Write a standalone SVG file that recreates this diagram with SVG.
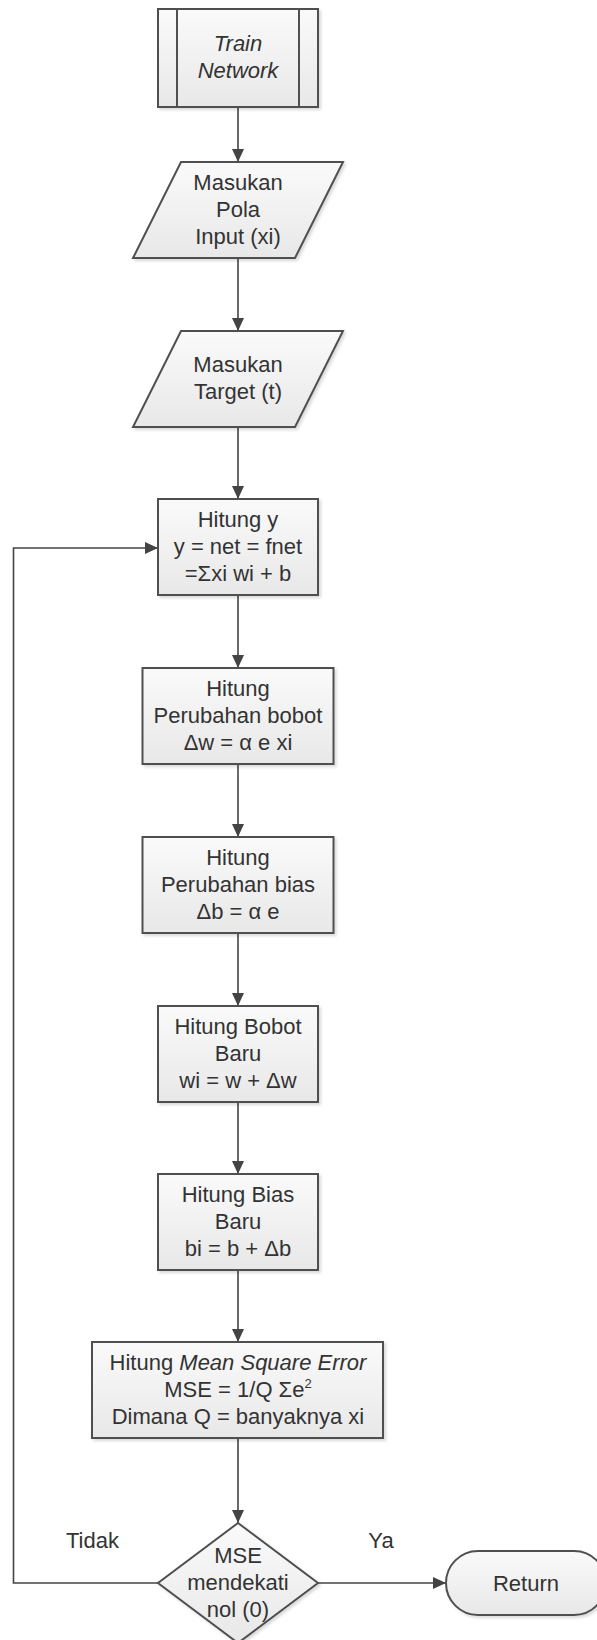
<svg xmlns="http://www.w3.org/2000/svg" width="597" height="1640" viewBox="0 0 597 1640">
<style>
  .shape { fill: url(#g); stroke: #505050; stroke-width: 2; filter: url(#sh); }
  .inner { stroke: #505050; stroke-width: 2; fill: none; }
  .t { font-family: "Liberation Sans", Arial, sans-serif; font-size: 22px; fill: #333; text-anchor: middle; }
  .it { font-style: italic; }
  .conn { fill: none; stroke: #444; stroke-width: 1.6; }
</style>
<defs>
  <linearGradient id="g" x1="0" y1="0" x2="0" y2="1">
    <stop offset="0" stop-color="#fafafa"/>
    <stop offset="1" stop-color="#e8e8e8"/>
  </linearGradient>
  <filter id="sh" x="-10%" y="-10%" width="125%" height="125%">
    <feDropShadow dx="2" dy="2" stdDeviation="1.5" flood-color="#000" flood-opacity="0.15"/>
  </filter>
  <marker id="arr" viewBox="0 0 13 12" refX="13" refY="6" markerWidth="13" markerHeight="12" markerUnits="userSpaceOnUse" orient="auto">
    <path d="M0,0 L13,6 L0,12 z" fill="#444"/>
  </marker>
</defs>
<rect width="597" height="1640" fill="#fff"/>

<g id="connectors">
  <line class="conn" x1="238" y1="107" x2="238" y2="162" marker-end="url(#arr)"/>
  <line class="conn" x1="238" y1="258" x2="238" y2="331" marker-end="url(#arr)"/>
  <line class="conn" x1="238" y1="427" x2="238" y2="499" marker-end="url(#arr)"/>
  <line class="conn" x1="238" y1="595" x2="238" y2="668" marker-end="url(#arr)"/>
  <line class="conn" x1="238" y1="764" x2="238" y2="837" marker-end="url(#arr)"/>
  <line class="conn" x1="238" y1="933" x2="238" y2="1006" marker-end="url(#arr)"/>
  <line class="conn" x1="238" y1="1102" x2="238" y2="1174" marker-end="url(#arr)"/>
  <line class="conn" x1="238" y1="1270" x2="238" y2="1342" marker-end="url(#arr)"/>
  <line class="conn" x1="238" y1="1438" x2="238" y2="1523" marker-end="url(#arr)"/>
  <polyline class="conn" points="158,1583 13.5,1583 13.5,548 158,548" marker-end="url(#arr)"/>
  <line class="conn" x1="318" y1="1583" x2="446" y2="1583" marker-end="url(#arr)"/>
  <text class="t" x="92.5" y="1548">Tidak</text>
  <text class="t" x="381" y="1548">Ya</text>
</g>

<g id="train">
  <rect class="shape" x="158" y="9" width="160" height="98"/>
  <line class="inner" x1="177" y1="9" x2="177" y2="107"/>
  <line class="inner" x1="299" y1="9" x2="299" y2="107"/>
  <text class="t it" x="238" y="51">Train</text>
  <text class="t it" x="238" y="78">Network</text>
</g>

<g id="input-pola">
  <polygon class="shape" points="181,162 343,162 295,258 133,258"/>
  <text class="t" x="238" y="190">Masukan</text>
  <text class="t" x="238" y="217">Pola</text>
  <text class="t" x="238" y="244">Input (xi)</text>
</g>

<g id="input-target">
  <polygon class="shape" points="181,331 343,331 295,427 133,427"/>
  <text class="t" x="238" y="372">Masukan</text>
  <text class="t" x="238" y="399">Target (t)</text>
</g>

<g id="hitung-y">
  <rect class="shape" x="158" y="499" width="160" height="96"/>
  <text class="t" x="238" y="527">Hitung y</text>
  <text class="t" x="238" y="554">y = net = fnet</text>
  <text class="t" x="238" y="581">=Σxi wi + b</text>
</g>

<g id="perubahan-bobot">
  <rect class="shape" x="142.5" y="668" width="191" height="96"/>
  <text class="t" x="238" y="696">Hitung</text>
  <text class="t" x="238" y="723">Perubahan bobot</text>
  <text class="t" x="238" y="750">Δw = α e xi</text>
</g>

<g id="perubahan-bias">
  <rect class="shape" x="142.5" y="837" width="191" height="96"/>
  <text class="t" x="238" y="865">Hitung</text>
  <text class="t" x="238" y="892">Perubahan bias</text>
  <text class="t" x="238" y="919">Δb = α e</text>
</g>

<g id="bobot-baru">
  <rect class="shape" x="158" y="1006" width="160" height="96"/>
  <text class="t" x="238" y="1034">Hitung Bobot</text>
  <text class="t" x="238" y="1061">Baru</text>
  <text class="t" x="238" y="1088">wi = w + Δw</text>
</g>

<g id="bias-baru">
  <rect class="shape" x="158" y="1174" width="160" height="96"/>
  <text class="t" x="238" y="1202">Hitung Bias</text>
  <text class="t" x="238" y="1229">Baru</text>
  <text class="t" x="238" y="1256">bi = b + Δb</text>
</g>

<g id="mse">
  <rect class="shape" x="92" y="1342" width="291" height="96"/>
  <text class="t" x="238" y="1370">Hitung <tspan class="it">Mean Square Error</tspan></text>
  <text class="t" x="238" y="1397">MSE = 1/Q Σe<tspan dy="-9" font-size="13">2</tspan></text>
  <text class="t" x="238" y="1424">Dimana Q = banyaknya xi</text>
</g>

<g id="decision">
  <polygon class="shape" points="238,1523 318,1583 238,1643 158,1583"/>
  <text class="t" x="238" y="1563">MSE</text>
  <text class="t" x="238" y="1590">mendekati</text>
  <text class="t" x="238" y="1617">nol (0)</text>
</g>

<g id="return">
  <rect class="shape" x="446" y="1551" width="160" height="64" rx="32" ry="32"/>
  <text class="t" x="526" y="1591">Return</text>
</g>
</svg>
